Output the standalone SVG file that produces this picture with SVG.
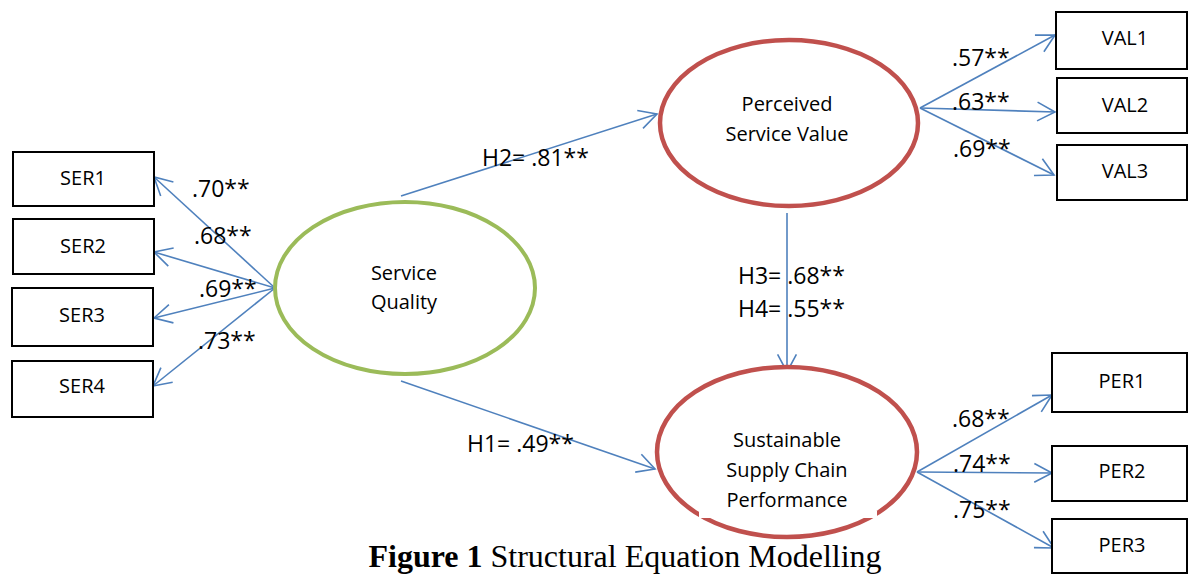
<svg xmlns="http://www.w3.org/2000/svg" width="1188" height="575" viewBox="0 0 1188 575">
<style>
.box{fill:#fff;stroke:#000;stroke-width:2}
.lat{fill:#fff;stroke-width:4.5}
.red{stroke:#C0504D}
.grn{stroke:#9BBB59;stroke-width:4}
.nl{font-family:"Open Sans","Liberation Sans",sans-serif;font-size:20px;fill:#000;text-anchor:middle}
.el{font-family:"Open Sans","Liberation Sans",sans-serif;font-size:23px;fill:#000}
.ln{stroke:#4F81BD;stroke-width:1.6;fill:none;marker-end:url(#ah)}
.cap{font-family:"Liberation Serif","Times New Roman",serif;font-size:32px;fill:#000;text-anchor:middle}
</style>
<defs>
<marker id="ah" markerUnits="userSpaceOnUse" markerWidth="26" markerHeight="26" viewBox="-22 -13 26 26" refX="0" refY="0" orient="auto" overflow="visible">
<path d="M -17.7 -9.4 L 0 0 L -17.7 9.4" fill="none" stroke="#4F81BD" stroke-width="1.6"/>
</marker>
</defs>
<rect width="1188" height="575" fill="#fff"/>
<g id="connectors">
<line class="ln" x1="275" y1="288" x2="154" y2="177"/>
<line class="ln" x1="275" y1="288" x2="154" y2="252"/>
<line class="ln" x1="275" y1="288" x2="154" y2="318"/>
<line class="ln" x1="275" y1="288" x2="153" y2="386"/>
<line class="ln" x1="401" y1="196" x2="657" y2="114"/>
<line class="ln" x1="401" y1="381" x2="655" y2="469"/>
<line class="ln" x1="787" y1="213" x2="787" y2="372"/>
<line class="ln" x1="920" y1="108" x2="1055" y2="35"/>
<line class="ln" x1="920" y1="108" x2="1055" y2="112"/>
<line class="ln" x1="920" y1="108" x2="1054" y2="175"/>
<line class="ln" x1="917" y1="472" x2="1052" y2="395"/>
<line class="ln" x1="917" y1="472" x2="1052" y2="473"/>
<line class="ln" x1="917" y1="472" x2="1054" y2="548"/>
</g>
<g id="SER1"><rect class="box" x="13" y="152" width="141" height="54"/><text class="nl" x="83" y="185">SER1</text></g>
<g id="SER2"><rect class="box" x="13" y="219" width="141" height="55"/><text class="nl" x="83" y="253">SER2</text></g>
<g id="SER3"><rect class="box" x="12" y="288" width="141" height="58"/><text class="nl" x="82" y="322">SER3</text></g>
<g id="SER4"><rect class="box" x="12" y="361" width="141" height="56"/><text class="nl" x="82" y="393">SER4</text></g>
<g id="VAL1"><rect class="box" x="1056" y="12" width="131" height="57"/><text class="nl" x="1125" y="45">VAL1</text></g>
<g id="VAL2"><rect class="box" x="1057" y="78" width="130" height="55"/><text class="nl" x="1125" y="112">VAL2</text></g>
<g id="VAL3"><rect class="box" x="1057" y="145" width="130" height="55"/><text class="nl" x="1125" y="178">VAL3</text></g>
<g id="PER1"><rect class="box" x="1052" y="353" width="135" height="59"/><text class="nl" x="1122" y="388">PER1</text></g>
<g id="PER2"><rect class="box" x="1052" y="446" width="135" height="55"/><text class="nl" x="1122" y="478">PER2</text></g>
<g id="PER3"><rect class="box" x="1052" y="519" width="135" height="54"/><text class="nl" x="1122" y="552">PER3</text></g>
<g id="ServiceQuality"><ellipse class="lat grn" cx="405" cy="288" rx="130" ry="86"/><text class="nl" x="404" y="280">Service</text><text class="nl" x="404" y="309">Quality</text></g>
<g id="PerceivedServiceValue"><ellipse class="lat red" cx="789" cy="123" rx="129" ry="83"/><text class="nl" x="787" y="111">Perceived</text><text class="nl" x="787" y="141">Service Value</text></g>
<g id="SSCP"><ellipse class="lat red" cx="787" cy="452" rx="130" ry="85"/><text class="nl" x="787" y="447">Sustainable</text><text class="nl" x="787" y="477">Supply Chain</text><text class="nl" x="787" y="507">Performance</text></g>
<rect x="699" y="511" width="178" height="7" fill="#fff"/>
<g id="labels">
<text class="el" x="192" y="197">.70**</text>
<text class="el" x="194" y="244">.68**</text>
<text class="el" x="199" y="297">.69**</text>
<text class="el" x="198" y="349">.73**</text>
<text class="el" x="482" y="166">H2= .81**</text>
<text class="el" x="467" y="452">H1= .49**</text>
<text class="el" x="738" y="284">H3= .68**</text>
<text class="el" x="738" y="317">H4= .55**</text>
<text class="el" x="952" y="66">.57**</text>
<text class="el" x="952" y="110">.63**</text>
<text class="el" x="953" y="157">.69**</text>
<text class="el" x="952" y="427">.68**</text>
<text class="el" x="953" y="472">.74**</text>
<text class="el" x="953" y="518">.75**</text>
</g>
<text class="cap" x="625" y="567"><tspan font-weight="bold">Figure 1</tspan> Structural Equation Modelling</text>
</svg>
